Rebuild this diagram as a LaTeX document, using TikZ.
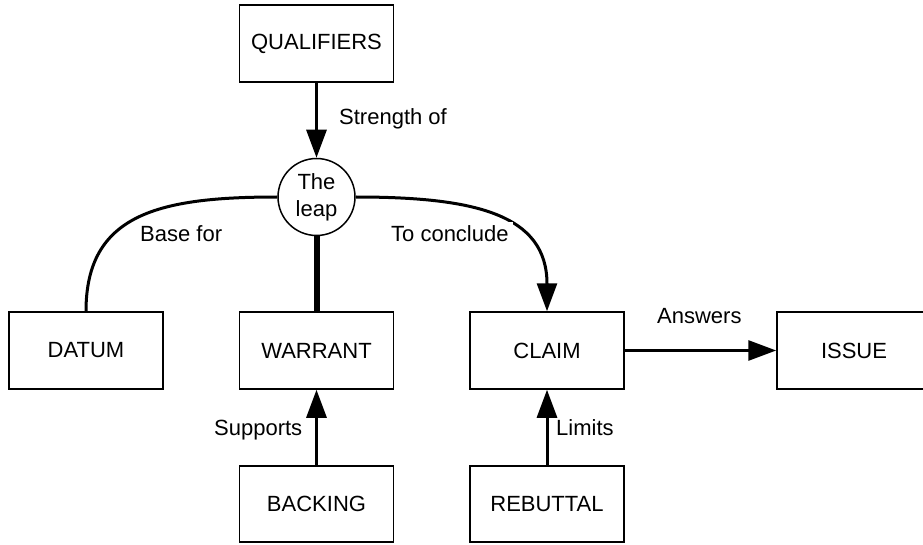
\documentclass[tikz,border=0pt]{standalone}
\usepackage{fontspec}
\setmainfont{Liberation Sans}
\usetikzlibrary{arrows.meta}
\begin{document}
\begin{tikzpicture}[x=1pt,y=-1pt,
  txt/.style={font=\fontsize{22}{27}\selectfont},
  box/.style={txt, draw, line width=1.5pt, minimum width=154pt, minimum height=77pt, inner sep=0pt},
  arr/.style={line width=3pt, -{Triangle[length=28pt,width=20pt]}},
  curve/.style={line width=3pt},
  lbl/.style={txt, inner sep=0pt},
  lblw/.style={txt, inner sep=4pt, fill=white}
]
\useasboundingbox (0,0) rectangle (923,545);
\node[box] (qual) at (316.5,43.5) {QUALIFIERS};
\node[txt, circle, draw, line width=1.5pt, minimum size=77pt, inner sep=0pt, align=center] (leap) at (316.5,197) {The\\leap};
\node[box] (datum) at (86,350.5) {DATUM};
\node[box] (warrant) at (316.5,350.5) {WARRANT};
\node[box] (claim) at (547,350.5) {CLAIM};
\node[box] (issue) at (854,350.5) {ISSUE};
\node[box, minimum height=76pt] (backing) at (316.5,504) {BACKING};
\node[box, minimum height=76pt] (rebuttal) at (547,504) {REBUTTAL};

\draw[arr] (qual) -- (leap);
\draw[line width=6pt] (leap.south) -- (warrant.north);
\draw[curve] (datum.north) .. controls +(0,-97) and +(-119,0) .. (leap.west);
\draw[arr] (leap.east) .. controls +(119,0) and +(0,-97) .. (claim.north);
\draw[arr] (claim) -- (issue);
\draw[arr] (backing) -- (warrant);
\draw[arr] (rebuttal) -- (claim);

\node[lbl, anchor=base west] (lq) at (339,125) {Strength of};
\node[lblw, anchor=base west] (lb) at (136,242) {Base for};
\node[lblw, anchor=base west] (lc) at (387,242) {To conclude};
\node[lbl, anchor=base west] (la) at (657,323) {Answers};
\node[lbl, anchor=base west] (ls) at (214,435) {Supports};
\node[lbl, anchor=base west] (ll) at (556,435) {Limits};
\end{tikzpicture}
\end{document}
